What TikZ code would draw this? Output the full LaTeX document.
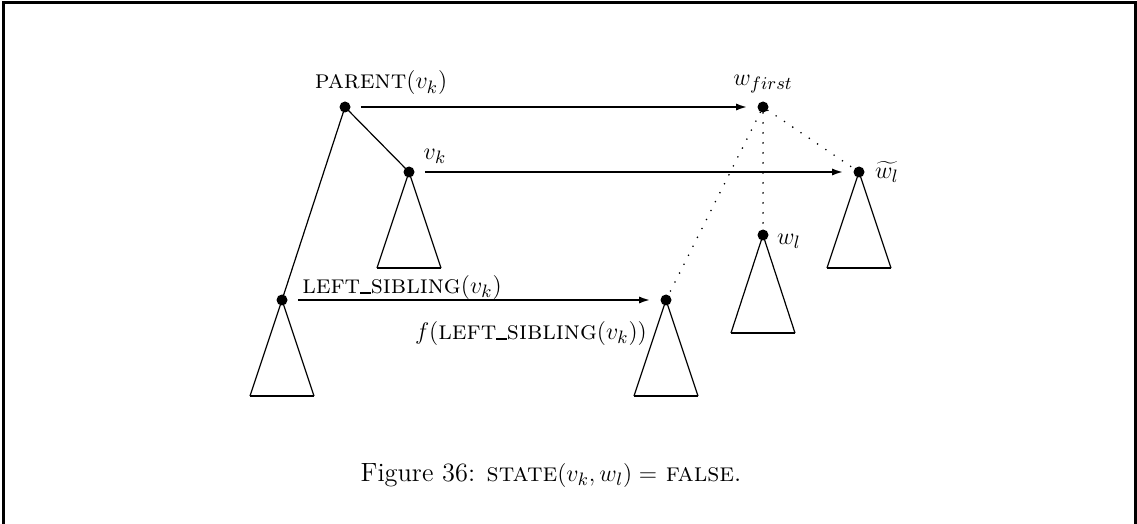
\documentclass[tikz,border=0pt]{standalone}
\usetikzlibrary{arrows.meta}

\tikzset{
  vert/.style={circle,fill,inner sep=0pt,minimum size=5.5pt},
  side/.style={line width=0.6pt},
  base/.style={line width=1pt},
  arr/.style={line width=1.3pt,-{Latex[length=6pt,width=3.5pt]},shorten <=5pt,shorten >=4.5pt},
  dots/.style={line width=0.9pt,line cap=round,dash pattern=on 0pt off 5pt}
}
\newcommand{\usc}{\rule[-0.3pt]{0.4em}{0.8pt}}

\begin{document}
\begin{tikzpicture}[x=0.5pt,y=-0.5pt,font=\fontsize{13.2pt}{16pt}\selectfont]
\useasboundingbox (0,0) rectangle (1137,524);
% frame
\draw[line width=1.5pt] (3.5,524) -- (3.5,3) -- (1135,3) -- (1135,524);

% tree nodes
\node[vert] (parent) at (345,107) {};
\node[vert] (vk) at (409,172) {};
\node[vert] (ls) at (282,300) {};
\node[vert] (wfirst) at (763,107) {};
\node[vert] (wt) at (859,172) {};
\node[vert] (wl) at (763,235) {};
\node[vert] (f) at (666,300) {};

% labels
\node (parentlbl) at (381,83) {\textsc{parent}$(v_k)$};
\node (vklbl) at (435,156) {$v_k$};
\node (wfirstlbl) at (763,84) {$w_{first}$};
\node[inner sep=1pt] (wtlbl) at (887,172) {$\widetilde{w_l}$};
\node (wllbl) at (789,241) {$w_l$};
\node (lslbl) at (402,287) {\textsc{left\usc sibling}$(v_k)$};
\node (flbl) at (531,333) {$f(\textsc{left\usc sibling}(v_k))$};

% tree edges
\draw[side] (parent.center) -- (vk.center);
\draw[side] (parent.center) -- (ls.center);

% subtrees
\foreach \n/\h in {vk/96, ls/96, f/96, wl/98, wt/96} {
  \draw[side] (\n.center) -- ++(-32,\h) coordinate (\n-l);
  \draw[side] (\n.center) -- ++(32,\h) coordinate (\n-r);
  \draw[base] (\n-l) -- (\n-r);
}

% mapping
\draw[arr] (parent) -- (wfirst);
\draw[arr] (vk) -- (wt);
\draw[arr] (ls) -- (f);

\draw[dots] (wfirst) -- (wt);
\draw[dots] (wfirst) -- (wl);
\draw[dots] (wfirst) -- (f);

% caption
\node (caption) at (551,475) {Figure 36: \textsc{state}$(v_k, w_l) = $ \textsc{false}.};
\end{tikzpicture}
\end{document}
